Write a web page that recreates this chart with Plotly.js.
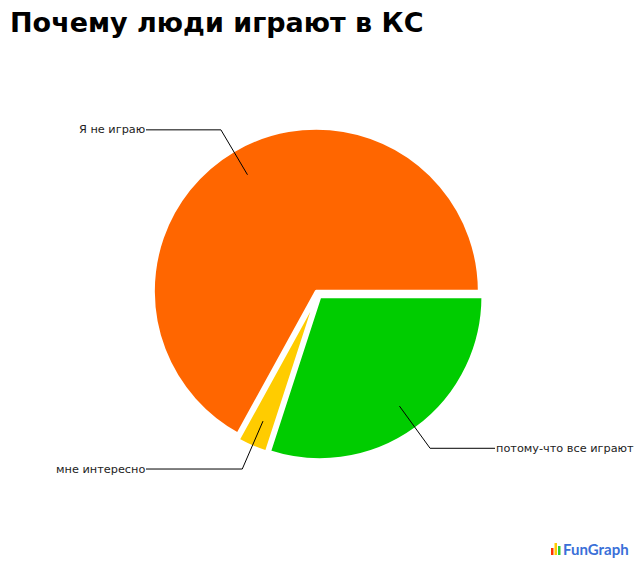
<!DOCTYPE html>
<html>
<head>
<meta charset="utf-8">
<script src="https://cdn.plot.ly/plotly-3.0.1.min.js"></script>
<style>html,body{margin:0;padding:0;background:#fff;}</style>
</head>
<body>
<div id="chart" style="width:640px;height:565px;"></div>
<script>
// ---- data ----
const titleText = "Почему люди играют в КС";
const labels = ["Я не играю", "мне интересно", "потому-что все играют"];
const values = [67, 3, 30];
const colors = ["#ff6600", "#ffcc00", "#00cc00"];

// ---- geometry (pixels) ----
const W = 640, H = 565;
const cx = 318, cy = 294, R = 163, pull = 0.02;
const half = R * (1 + pull);
const px = x => x / W;
const py = y => (H - y) / H;

const total = values.reduce((a, b) => a + b, 0);
// first slice should run counterclockwise from 3 o'clock
const rotation = 90 - values[0] / total * 360;

// leader lines computed from the data
const shapes = [];
const annotations = [];
let start = 0; // degrees, math convention, from 3 o'clock counterclockwise
values.forEach((v, i) => {
  const sweep = v / total * 360;
  const mid = (start + sweep / 2) * Math.PI / 180;
  start += sweep;
  const dx = Math.cos(mid), dy = -Math.sin(mid);
  const ax = cx + dx * R * 0.85, ay = cy + dy * R * 0.85;
  const ex = cx + dx * R * 1.17, ey = cy + dy * R * 1.17;
  const left = dx < 0;
  const tx = left ? cx - 172 : cx + 177;
  shapes.push({
    type: "path", xref: "paper", yref: "paper",
    path: `M ${px(ax)} ${py(ay)} L ${px(ex)} ${py(ey)} L ${px(tx)} ${py(ey)}`,
    line: {color: "#000", width: 1}
  });
  annotations.push({
    text: labels[i], xref: "paper", yref: "paper",
    x: px(left ? tx + 1 : tx - 1), y: py(ey),
    xanchor: left ? "right" : "left", yanchor: "middle",
    showarrow: false,
    font: {family: "DejaVu Sans, Verdana, sans-serif", size: 11.3, color: "#222"}
  });
});

// FunGraph logo
const logoBars = [[551, 548, "#ff3300"], [554.5, 543, "#ffcc00"], [558, 546, "#33cc33"]];
logoBars.forEach(b => shapes.push({
  type: "rect", xref: "paper", yref: "paper",
  x0: px(b[0]), x1: px(b[0] + 2.5), y0: py(555), y1: py(b[1]),
  fillcolor: b[2], line: {width: 0}
}));
annotations.push({
  text: "<b>FunGraph</b>", xref: "paper", yref: "paper",
  x: px(561), y: py(549), xanchor: "left", yanchor: "middle", showarrow: false,
  font: {family: "Lato, Roboto, sans-serif", size: 15, color: "#3a6fd8"}
});

const trace = {
  type: "pie",
  labels: labels,
  values: values,
  sort: false,
  direction: "counterclockwise",
  rotation: rotation,
  pull: values.map(() => pull),
  marker: {colors: colors, line: {color: "#fff", width: 3}},
  textinfo: "none",
  hoverinfo: "label+percent",
  showlegend: false,
  domain: {x: [px(cx - half), px(cx + half)], y: [py(cy + half), py(cy - half)]}
};

const layout = {
  width: W, height: H,
  margin: {l: 0, r: 0, t: 0, b: 0},
  paper_bgcolor: "#fff",
  title: {
    text: "<b>" + titleText + "</b>",
    x: 10 / W, xanchor: "left", xref: "paper",
    y: 1 - 23 / H, yanchor: "middle", yref: "paper",
    font: {family: "DejaVu Sans, sans-serif", size: 27, color: "#000"}
  },
  shapes: shapes,
  annotations: annotations
};

Plotly.newPlot("chart", [trace], layout, {displayModeBar: false, staticPlot: true});
</script>
</body>
</html>
